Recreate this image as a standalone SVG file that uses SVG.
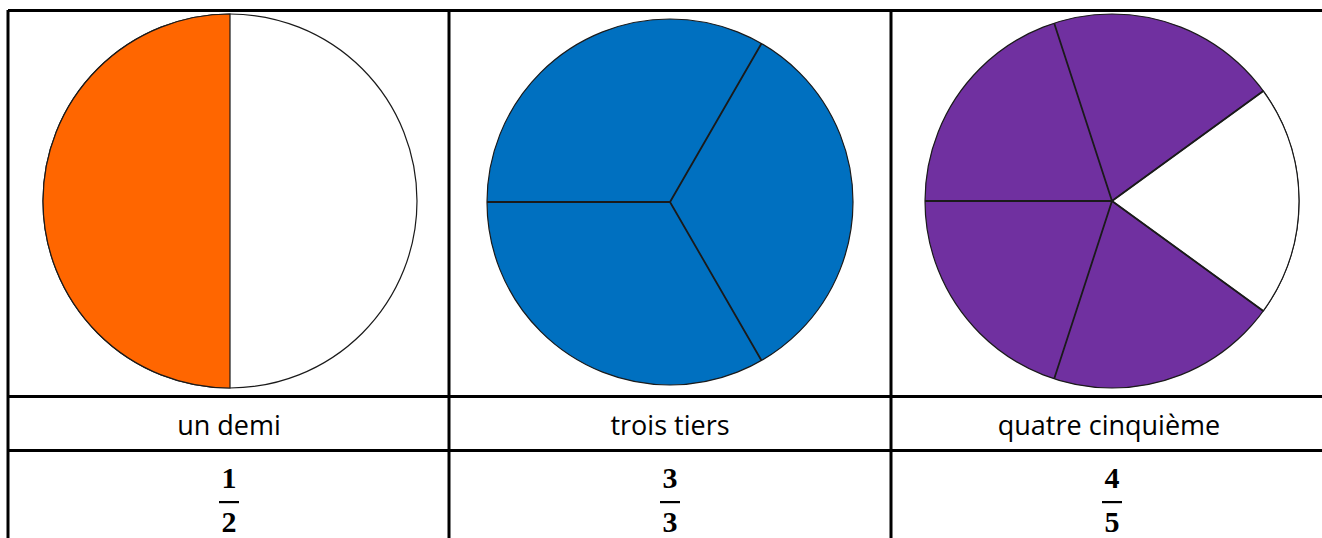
<svg xmlns="http://www.w3.org/2000/svg" width="1322" height="538" viewBox="0 0 1322 538">
<style>
.grid{stroke:#000;stroke-width:3;fill:none}
.edge{stroke:#1a1a1a;stroke-width:1.2}
.seg{stroke:#1a1a1a;stroke-width:1.8;fill:none}
.lbl{font-family:"Open Sans","Liberation Sans",sans-serif;font-size:27px;fill:#000;text-anchor:middle}
.frac{font-family:"Liberation Serif",serif;font-weight:bold;font-size:30px;fill:#000;text-anchor:middle}
</style>
<rect width="1322" height="538" fill="#fff"/>
<g id="table">
<path class="grid" d="M8 10.5H1330 M8 10V540 M449 10V540 M891 10V540 M8 396.5H1330 M8 450.5H1330"/>
</g>
<g id="half">
<circle cx="230" cy="201" r="187" fill="#fff" class="edge"/>
<path d="M230 14A187 187 0 0 0 230 388Z" fill="#FF6600" class="edge"/>
</g>
<g id="thirds">
<circle cx="670" cy="202" r="183" fill="#0070C0" class="edge"/>
<path class="seg" d="M487 202H670L761.5 43.5M670 202L761.5 360.5"/>
</g>
<g id="fifths">
<circle cx="1112" cy="201" r="187" fill="#7030A0" class="edge"/>
<path d="M1112 201L1263.3 91.1A187 187 0 0 1 1263.3 310.9Z" fill="#fff" class="edge"/>
<path class="seg" d="M1112 201L1054.2 23.2M1112 201H925M1112 201L1054.2 378.8M1112 201L1263.3 91.1M1112 201L1263.3 310.9"/>
</g>
<g id="labels">
<text class="lbl" x="229" y="435">un demi</text>
<text class="lbl" x="670" y="435">trois tiers</text>
<text class="lbl" x="1109" y="435">quatre cinquième</text>
</g>
<g id="fractions">
<text class="frac" x="229" y="488">1</text>
<rect x="219" y="501" width="20" height="2.2"/>
<text class="frac" x="229" y="532">2</text>
<text class="frac" x="670" y="488">3</text>
<rect x="660" y="501" width="20" height="2.2"/>
<text class="frac" x="670" y="532">3</text>
<text class="frac" x="1112" y="488">4</text>
<rect x="1102" y="501" width="20" height="2.2"/>
<text class="frac" x="1112" y="532">5</text>
</g>
</svg>
